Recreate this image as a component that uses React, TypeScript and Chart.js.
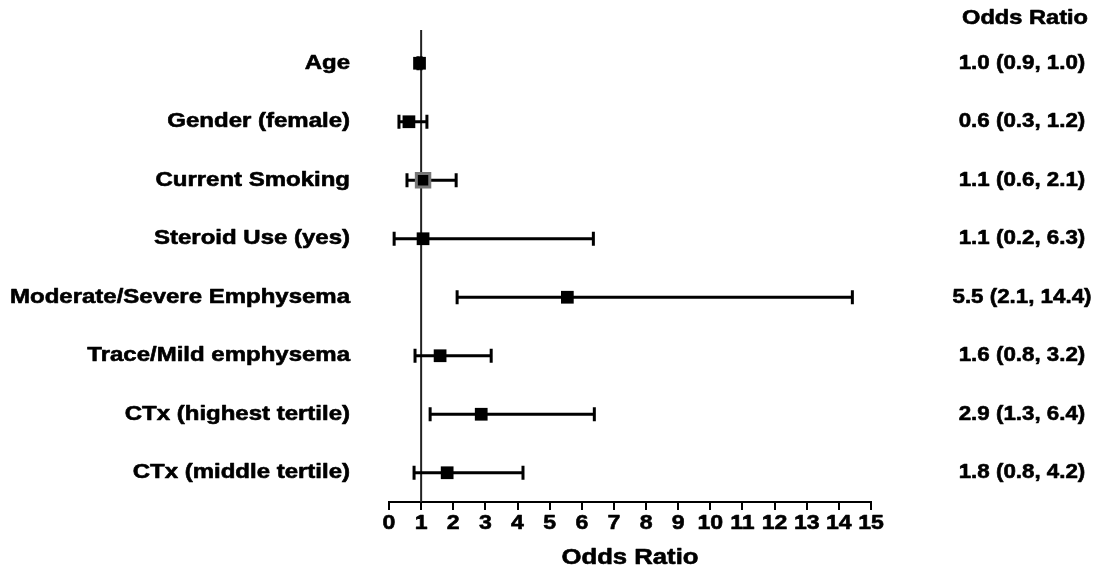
import React, { useEffect, useRef } from 'react';
import { Chart, registerables } from 'chart.js';

Chart.register(...registerables);

// ---- data ----
const categories = [
  'Age',
  'Gender (female)',
  'Current Smoking',
  'Steroid Use (yes)',
  'Moderate/Severe Emphysema',
  'Trace/Mild emphysema',
  'CTx (highest tertile)',
  'CTx (middle tertile)',
];
const oddsRatio = [0.95, 0.62, 1.06, 1.06, 5.55, 1.59, 2.87, 1.81];
const lowerCI = [0.9, 0.31, 0.56, 0.16, 2.12, 0.81, 1.28, 0.78];
const upperCI = [1.0, 1.18, 2.09, 6.36, 14.42, 3.18, 6.39, 4.17];
const ciLabels = [
  '1.0 (0.9, 1.0)',
  '0.6 (0.3, 1.2)',
  '1.1 (0.6, 2.1)',
  '1.1 (0.2, 6.3)',
  '5.5 (2.1, 14.4)',
  '1.6 (0.8, 3.2)',
  '2.9 (1.3, 6.4)',
  '1.8 (0.8, 4.2)',
];
const highlighted = [false, false, true, false, false, false, false, false];
const columnHeader = 'Odds Ratio';
const xAxisTitle = 'Odds Ratio';
const xMin = 0;
const xMax = 15;
const referenceValue = 1;

const FONT = '"Liberation Sans", Arial, Helvetica, sans-serif';

function fitScale(ctx: CanvasRenderingContext2D, size: number, ref: string, target: number) {
  ctx.save();
  ctx.font = `bold ${size}px ${FONT}`;
  const w = ctx.measureText(ref).width;
  ctx.restore();
  return target / w;
}

function drawText(
  ctx: CanvasRenderingContext2D,
  text: string,
  x: number,
  y: number,
  size: number,
  sx: number,
  align: CanvasTextAlign
) {
  ctx.save();
  ctx.font = `bold ${size}px ${FONT}`;
  ctx.fillStyle = '#000';
  ctx.strokeStyle = '#000';
  ctx.lineWidth = 0.6;
  ctx.lineJoin = 'round';
  ctx.textBaseline = 'middle';
  ctx.textAlign = align;
  ctx.translate(x, y);
  ctx.scale(sx, 1);
  ctx.fillText(text, 0, 0);
  ctx.strokeText(text, 0, 0);
  ctx.restore();
}

const forestPlugin = {
  id: 'forest',
  beforeDatasetsDraw(chart: any) {
    const { ctx, scales } = chart;
    const xs = scales.x;
    const ys = scales.y;
    ctx.save();
    // reference line
    const rx = xs.getPixelForValue(referenceValue);
    ctx.strokeStyle = '#222';
    ctx.lineWidth = 2;
    ctx.beginPath();
    ctx.moveTo(rx, chart.chartArea.top - 4);
    ctx.lineTo(rx, chart.chartArea.bottom);
    ctx.stroke();
    // error bars
    ctx.strokeStyle = '#000';
    ctx.lineWidth = 3;
    ctx.lineCap = 'butt';
    for (let i = 0; i < categories.length; i++) {
      const y = ys.getPixelForValue(i + 1);
      const x1 = xs.getPixelForValue(lowerCI[i]);
      const x2 = xs.getPixelForValue(upperCI[i]);
      ctx.beginPath();
      ctx.moveTo(x1, y);
      ctx.lineTo(x2, y);
      ctx.moveTo(x1, y - 7);
      ctx.lineTo(x1, y + 7);
      ctx.moveTo(x2, y - 7);
      ctx.lineTo(x2, y + 7);
      ctx.stroke();
    }
    ctx.restore();
  },
  afterDraw(chart: any) {
    const { ctx, scales } = chart;
    const xs = scales.x;
    const ys = scales.y;
    const area = chart.chartArea;

    const sLeft = fitScale(ctx, 20, 'Moderate/Severe Emphysema', 340);
    const sRight = fitScale(ctx, 20, '5.5 (2.1, 14.4)', 139);
    const sHead = fitScale(ctx, 20, columnHeader, 126);
    const sTitle = fitScale(ctx, 22, xAxisTitle, 137);

    for (let i = 0; i < categories.length; i++) {
      const y = ys.getPixelForValue(i + 1);
      drawText(ctx, categories[i], area.left - 39, y, 20, sLeft, 'right');
      drawText(ctx, ciLabels[i], 1022, y, 20, sRight, 'center');
    }
    drawText(ctx, columnHeader, 1025, 18, 20, sHead, 'center');

    // x tick labels
    for (const t of xs.ticks) {
      const x = xs.getPixelForValue(t.value);
      drawText(ctx, String(t.value), x, 523, 21, 1.1, 'center');
    }
    drawText(ctx, xAxisTitle, (area.left + area.right) / 2, 558, 22, sTitle, 'center');
  },
};

export default function App() {
  const ref = useRef<HTMLCanvasElement | null>(null);

  useEffect(() => {
    document.body.style.margin = '0';
    const canvas = ref.current;
    if (!canvas) return;
    const chart = new Chart(canvas, {
      type: 'scatter',
      data: {
        datasets: [
          {
            data: oddsRatio.map((v, i) => ({ x: v, y: i + 1 })),
            pointStyle: 'rect',
            pointRadius: highlighted.map((h) => (h ? 9.5 : 9)),
            pointHoverRadius: 9,
            pointBackgroundColor: '#000',
            pointBorderColor: highlighted.map((h) => (h ? '#777' : '#000')),
            pointBorderWidth: highlighted.map((h) => (h ? 3 : 0)),
            showLine: false,
          },
        ],
      },
      options: {
        animation: false,
        responsive: true,
        maintainAspectRatio: false,
        layout: { padding: { left: 0, right: 225, top: 34, bottom: 0 } },
        plugins: {
          legend: { display: false },
          tooltip: { enabled: false },
          title: { display: false },
        },
        scales: {
          x: {
            type: 'linear',
            position: 'bottom',
            min: xMin,
            max: xMax,
            ticks: { stepSize: 1, display: false },
            grid: {
              display: true,
              drawOnChartArea: false,
              drawTicks: true,
              tickLength: 8,
              color: '#000',
              lineWidth: 2,
            },
            border: { display: true, color: '#000', width: 2 },
            afterFit: (s: any) => {
              s.height = 73;
            },
          },
          y: {
            type: 'linear',
            min: 0.5,
            max: 8.5,
            reverse: true,
            ticks: { display: false },
            grid: { display: false },
            border: { display: false },
            afterFit: (s: any) => {
              s.width = 389;
            },
          },
        },
      },
      plugins: [forestPlugin],
    });
    return () => chart.destroy();
  }, []);

  return (
    <div style={{ position: 'relative', width: '1096px', height: '575px', background: '#fff' }}>
      <canvas ref={ref} />
    </div>
  );
}
